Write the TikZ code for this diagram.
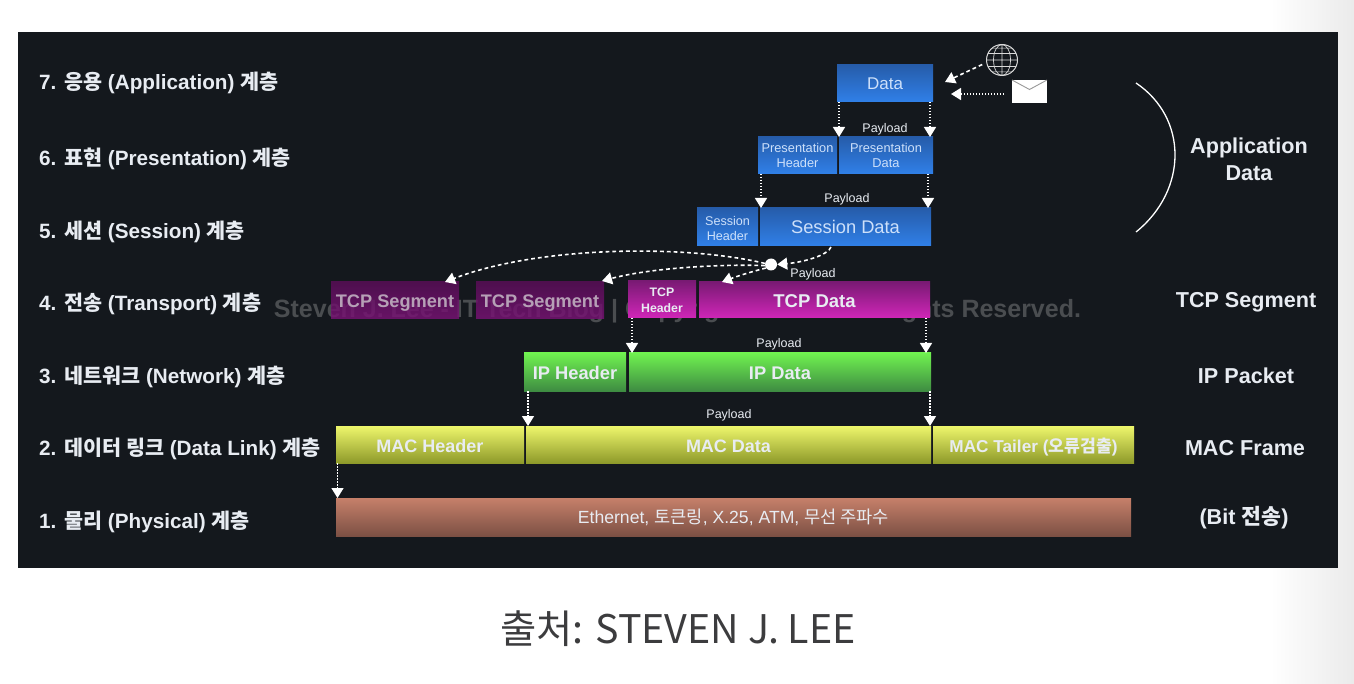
\documentclass[tikz,border=0pt]{standalone}
\usepackage{fontspec}
\setmainfont{Liberation Sans}
\newfontfamily\krfont{Noto Sans CJK KR}
\usetikzlibrary{arrows.meta,shadings}
\newcommand{\kr}[1]{{\krfont #1}}
\newcommand{\fs}[1]{\fontsize{#1}{#1}\selectfont}
\newcommand{\dn}[2]{\raisebox{-#1pt}[0pt][0pt]{#2}}
\definecolor{panel}{HTML}{14181D}
\definecolor{soft}{HTML}{E8ECF2}
\newcommand{\bx}[7]{%
  \pgfmathsetmacro\bxw{#4-#2}\pgfmathsetmacro\bxh{#5-#3}%
  \node[boxbase,#6,minimum width=\bxw pt,minimum height=\bxh pt] (#1) at ({(#2+#4)/2},{(#3+#5)/2}) {#7};}
\tikzset{
  boxbase/.style={inner sep=0pt,outer sep=0pt,align=center,text=soft,font=\bfseries},
  bluebox/.style={top color={rgb,255:red,38;green,92;blue,170},bottom color={rgb,255:red,48;green,128;blue,232},text={rgb,255:red,205;green,224;blue,250},font=\mdseries},
  tcpbox/.style={top color={rgb,255:red,122;green,26;blue,116},bottom color={rgb,255:red,208;green,38;blue,184}},
  segbox/.style={top color={rgb,255:red,92;green,14;blue,90},bottom color={rgb,255:red,122;green,18;blue,118},opacity=.82,text opacity=1,text={rgb,255:red,182;green,160;blue,182}},
  ipbox/.style={top color={rgb,255:red,112;green,242;blue,80},bottom color={rgb,255:red,62;green,140;blue,66}},
  macbox/.style={top color={rgb,255:red,238;green,246;blue,108},bottom color={rgb,255:red,142;green,154;blue,42}},
  phybox/.style={top color={rgb,255:red,198;green,128;blue,106},bottom color={rgb,255:red,124;green,80;blue,68},font=\mdseries},
  flow/.style={draw=white,line width=1.5pt,dash pattern=on 1.5pt off 1.5pt,-{Triangle[length=10pt,width=12pt,fill=white]}},
  curveflow/.style={draw=white,line width=1.6pt,dash pattern=on 3.8pt off 3pt,-{Triangle[length=10pt,width=12pt,fill=white]}},
  layer/.style={anchor=west,text=soft,inner sep=0pt,font=\bfseries\fs{20.7}},
  side/.style={text=soft,inner sep=0pt,align=center,font=\bfseries\fs{21.6}},
  pay/.style={text=soft,inner sep=0pt,font=\fs{12.5}},
  marker/.style={circle,fill=white,inner sep=0pt,minimum size=12pt},
}
\begin{document}
\begin{tikzpicture}[x=1pt,y=-1pt]
\useasboundingbox (0,0) rectangle (1354,684);
\fill[white] (0,0) rectangle (1354,684);
\shade[left color=white,right color=black!8] (1270,0) rectangle (1354,684);
\fill[panel] (18,32) rectangle (1338,568);
% watermark
\node[text={rgb,255:red,74;green,77;blue,80},inner sep=0pt,font=\bfseries\fs{25}] (mark) at (677.5,311) {Steven J. Lee - IT Tech Blog | Copyright ©\hspace{2.5em} All Rights Reserved.};
% layer labels
\node[layer] (l7) at (39,83) {7. \kr{응용} (Application) \kr{계층}};
\node[layer] (l6) at (39,159) {6. \kr{표현} (Presentation) \kr{계층}};
\node[layer] (l5) at (39,232) {5. \kr{세션} (Session) \kr{계층}};
\node[layer] (l4) at (39,304) {4. \kr{전송} (Transport) \kr{계층}};
\node[layer] (l3) at (39,377) {3. \kr{네트워크} (Network) \kr{계층}};
\node[layer] (l2) at (39,449) {2. \kr{데이터 링크} (Data Link) \kr{계층}};
\node[layer] (l1) at (39,522) {1. \kr{물리} (Physical) \kr{계층}};
% right labels
\node[side] (rapp) at (1249,159) {Application\\[5pt]Data};
\node[side] (rtcp) at (1246,302) {TCP Segment};
\node[side] (rip) at (1246,375.5) {IP Packet};
\node[side] (rmac) at (1245,448.5) {MAC Frame};
\node[side] (rbit) at (1244,517.5) {(Bit \kr{전송})};
\coordinate (arcA) at (1136,83);
\coordinate (arcB) at (1136,232);
\draw[white,line width=1.3pt] (arcA) .. controls (1188,118) and (1188,190) .. (arcB);
% boxes
\bx{data}{837}{65}{933}{102}{bluebox}{\fs{17}Data}
\bx{ph}{758}{137}{837}{174}{bluebox}{\fs{12.8}Presentation\\[3pt]\fs{12.8}Header}
\bx{pd}{839}{137}{933}{174}{bluebox}{\fs{12.8}Presentation\\[3pt]\fs{12.8}Data}
\bx{sh}{697}{208}{758}{246}{bluebox}{\fs{12.6}\rule{0pt}{12pt}Session\\[3pt]\fs{12.6}Header}
\bx{sd}{760}{208}{931}{246}{bluebox}{\fs{18.3}Session Data}
\bx{seg1}{331}{282}{459}{319}{segbox}{\dn{7}{\fs{18.2}TCP Segment}}
\bx{seg2}{476}{282}{604}{319}{segbox}{\dn{7}{\fs{18.2}TCP Segment}}
\bx{th}{628}{281}{696}{318}{tcpbox}{\fs{12.3}\rule{0pt}{11pt}TCP\\[4pt]\fs{12.3}Header}
\bx{td}{699}{282}{930}{318}{tcpbox}{\dn{7.7}{\fs{18.5}TCP Data}}
\bx{iph}{524}{353}{626}{391}{ipbox}{\dn{7.6}{\fs{18.3}IP Header}}
\bx{ipd}{629}{353}{931}{391}{ipbox}{\dn{7.6}{\fs{18.3}IP Data}}
\bx{mh}{336}{426}{524}{463}{macbox}{\dn{8}{\fs{18}MAC Header}}
\bx{md}{526}{426}{931}{463}{macbox}{\dn{8}{\fs{18}MAC Data}}
\bx{mt}{933}{426}{1134}{463}{macbox}{\dn{8}{\fs{17.2}MAC Tailer (\kr{오류검출})}}
\bx{phy}{336}{498}{1131}{536}{phybox}{\dn{6.3}{\fs{17.6}Ethernet, \kr{토큰링}, X.25, ATM, \kr{무선 주파수}}}
% payload labels
\node[pay] (p1) at (885,129.5) {Payload};
\node[pay] (p2) at (847,199.5) {Payload};
\node[pay] (p3) at (813,274.5) {Payload};
\node[pay] (p4) at (779,344.5) {Payload};
\node[pay] (p5) at (729,415.5) {Payload};
% icons
\node[circle,draw=white!85!black,line width=1pt,minimum size=31pt,inner sep=0pt,outer sep=0pt] (globe) at (1002,60) {};
\draw[white!85!black,line width=.7pt] (globe.north) -- (globe.south) (globe.west) -- (globe.east)
  (globe.center) ellipse [x radius=8.5pt,y radius=15.5pt]
  (globe.155) -- (globe.25) (globe.205) -- (globe.335) (globe.130) -- (globe.50) (globe.230) -- (globe.310);
\node[fill=white,inner sep=0pt,outer sep=0pt,minimum width=35pt,minimum height=23pt] (mail) at (1029.5,91.5) {};
\draw[black!40,line width=.9pt] (mail.north west) -- ([yshift=2pt]mail.center) -- (mail.north east);
% connectors
\coordinate (gtip) at (945,82);
\coordinate (mtip) at (951,94);
\draw[curveflow] ([xshift=-5pt]globe.197) -- (gtip);
\draw[flow] ([xshift=-8pt,yshift=-2.5pt]mail.west) -- (mtip);
\draw[flow] ([xshift=2pt]data.south west) -- ([xshift=2pt]data.south west |- ph.north);
\draw[flow] ([xshift=-3pt]data.south east) -- ([xshift=-3pt]data.south east |- pd.north);
\draw[flow] ([xshift=3pt]ph.south west) -- ([xshift=3pt]ph.south west |- sh.north);
\draw[flow] ([xshift=-5pt]pd.south east) -- ([xshift=-5pt]pd.south east |- sd.north);
\node[marker] (hub) at (771,264.5) {};
\draw[curveflow] ([xshift=-100pt,yshift=-1pt]sd.south east) .. controls (828,255) and (805,262) .. (hub.east);
\draw[curveflow] (hub.170) .. controls (690,245) and (540,245) .. ([xshift=-14pt]seg1.north east);
\draw[curveflow] (hub.190) .. controls (720,264) and (650,268) .. ([xshift=-2pt,yshift=1pt]seg2.north east);
\coordinate (dtip) at (722,282);
\draw[curveflow] (hub.215) .. controls (750,272) and (735,277) .. (dtip);
\draw[flow] ([xshift=4pt]th.south west) -- ([xshift=4pt]th.south west |- ipd.north);
\draw[flow] ([xshift=-4pt]td.south east) -- ([xshift=-4pt]td.south east |- ipd.north);
\draw[flow] ([xshift=4pt]iph.south west) -- ([xshift=4pt]iph.south west |- md.north);
\draw[flow] ([xshift=-1pt]ipd.south east) -- ([xshift=-1pt]ipd.south east |- md.north);
\draw[flow] ([xshift=1.5pt]mh.south west) -- ([xshift=1.5pt]mh.south west |- phy.north);
% caption
\node[inner sep=0pt,text={rgb,255:red,60;green,60;blue,62},font=\krfont\fs{39.4}] (cap) at (678,629) {출처: STEVEN J. LEE};
\end{tikzpicture}
\end{document}
